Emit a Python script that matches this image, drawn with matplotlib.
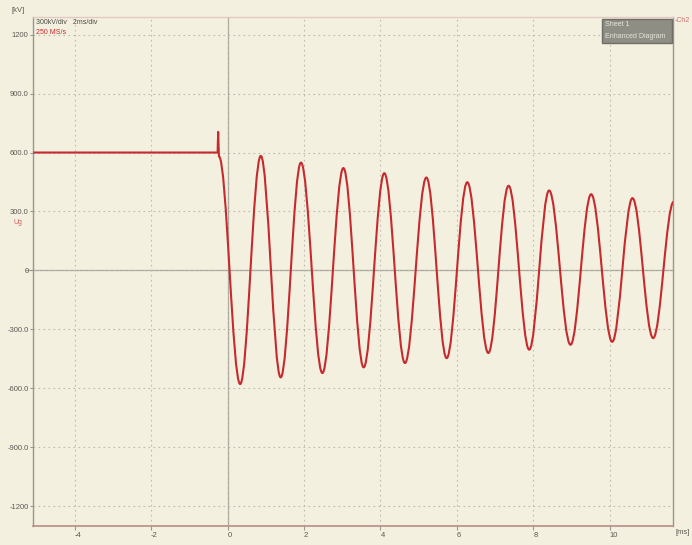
import matplotlib
matplotlib.use("Agg")
import matplotlib.pyplot as plt
from matplotlib.path import Path
from matplotlib.patches import PathPatch, Rectangle

# ---- data ----
pre_time = [-5.08, -0.26, -0.245, -0.225]          # ms
pre_kv = [600, 600, 705, 580]                      # kV
ext_time = [-0.225, 0.33, 0.87, 1.39, 1.92, 2.48, 3.03, 3.56, 4.10, 4.64, 5.20,
            5.73, 6.27, 6.82, 7.35, 7.89, 8.41, 8.97, 9.51, 10.06, 10.59, 11.13, 11.67]
ext_kv = [580, -578, 583, -544, 549, -522, 521, -493, 495, -471, 473,
          -446, 449, -420, 431, -403, 407, -378, 388, -363, 368, -344, 350]
x_ticks = [-4, -2, 0, 2, 4, 6, 8, 10]
x_labels = ["-4", "-2", "0", "2", "4", "6", "8", "10"]
y_ticks = [-1200, -900, -600, -300, 0, 300, 600, 900, 1200]
y_labels = ["-1200", "-900.0", "-600.0", "-300.0", "0", "300.0", "600.0", "900.0", "1200"]

W, H = 692, 545
BG = "#f4f0df"
RED = "#c62a2e"
FONT = ["Liberation Sans", "DejaVu Sans"]

fig = plt.figure(figsize=(W / 100, H / 100), dpi=100, facecolor=BG)
ax = fig.add_axes([33.3 / W, 1 - 526 / H, (673 - 33.3) / W, (526 - 16.7) / H])
ax.set_facecolor(BG)
ax.set_xlim(-5.08, 11.65)
ax.set_ylim(-1300, 1291)

# grid
ax.set_xticks(x_ticks)
ax.set_yticks(y_ticks)
ax.grid(True, linestyle=(0, (1.5, 3)), color="#bdbbb0", linewidth=0.8)
ax.axvline(0, color="#a8a69c", linewidth=0.9, zorder=1)
ax.axhline(0, xmin=-0.011, xmax=1, color="#a8a69c", linewidth=0.9, zorder=1, clip_on=False)

# waveform path
k = 0.3634
verts = [(pre_time[0], pre_kv[0])]
codes = [Path.MOVETO]
for t, v in zip(pre_time[1:], pre_kv[1:]):
    verts.append((t, v))
    codes.append(Path.LINETO)
for i in range(len(ext_time) - 1):
    t0, v0 = ext_time[i], ext_kv[i]
    t1, v1 = ext_time[i + 1], ext_kv[i + 1]
    dt = t1 - t0
    verts += [(t0 + k * dt, v0), (t1 - k * dt, v1), (t1, v1)]
    codes += [Path.CURVE4] * 3
ax.add_patch(PathPatch(Path(verts, codes), fill=False, edgecolor=RED,
                       linewidth=1.5, zorder=3, joinstyle="round"))

# spines
for s in ["left", "right"]:
    ax.spines[s].set_color("#9a988e")
    ax.spines[s].set_linewidth(1.0)
ax.spines["bottom"].set_color("#b88d84")
ax.spines["bottom"].set_linewidth(1.2)
ax.spines["top"].set_color("#e3c9c2")
ax.spines["top"].set_linewidth(1.0)

# ticks
ax.set_xticklabels(x_labels, fontsize=5.5, family=FONT, color="#5a5a55")
ax.set_yticklabels(y_labels, fontsize=5.5, family=FONT, color="#5a5a55")
ax.tick_params(axis="x", length=3, color="#9a988e", pad=1.5, direction="out")
ax.tick_params(axis="y", length=2, color="#9a988e", pad=1.5, direction="out")
for lab in ax.get_xticklabels():
    lab.set_horizontalalignment("left")

def ftext(x, y, s, **kw):
    fig.text(x / W, 1 - y / H, s, family=FONT, **kw)

ftext(12, 11, "[kV]", fontsize=5.5, color="#5a5a55", va="center")
ftext(676, 533, "[ms]", fontsize=5.5, color="#5a5a55", va="center")
ftext(36, 23, "300kV/div   2ms/div", fontsize=5, color="#4a4a45", va="center")
ftext(36, 33, "250 MS/s", fontsize=5, color=RED, va="center")
ftext(13, 222, "Ug", fontsize=5, color="#d06060", va="center")
ftext(675, 20, "-Ch2", fontsize=5, color="#d07070", va="center")

# legend-like box
box = Rectangle((602 / W, 1 - 43 / H), 70 / W, 24 / H, transform=fig.transFigure,
                facecolor="#8f8e84", edgecolor="#6e6d66", linewidth=1.0, zorder=5)
fig.patches.append(box)
ftext(605, 25, "Sheet 1", fontsize=5, color="#e8e6dc", va="center", zorder=6)
ftext(605, 36, "Enhanced Diagram", fontsize=5, color="#e8e6dc", va="center", zorder=6)

fig.savefig("out.png", dpi=100, facecolor=BG)
